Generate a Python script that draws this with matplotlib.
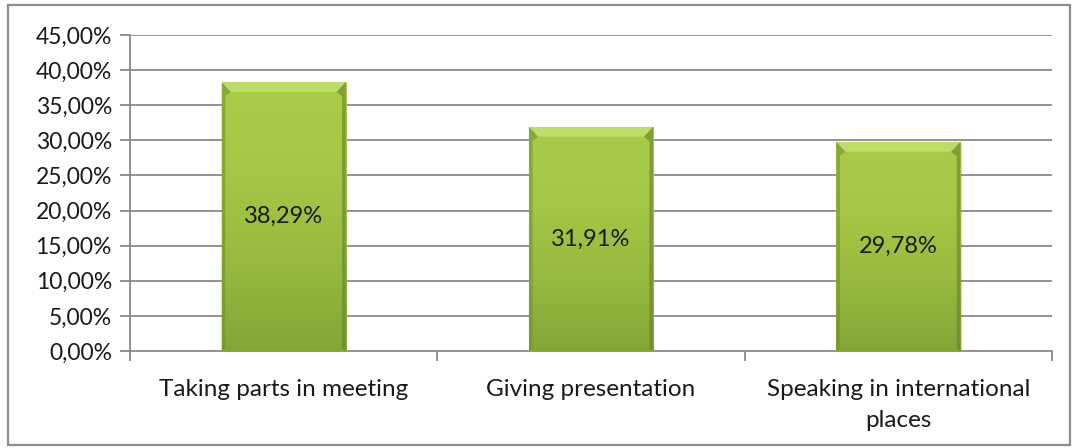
import matplotlib.pyplot as plt
import numpy as np
from matplotlib.colors import LinearSegmentedColormap
from matplotlib.patches import Rectangle, Polygon

categories = ['Taking parts in meeting', 'Giving presentation',
              'Speaking in international\nplaces']
shares = [38.29, 31.91, 29.78]
y_ticks = [0, 5, 10, 15, 20, 25, 30, 35, 40, 45]

plt.rcParams['font.family'] = ['Lato', 'DejaVu Sans']

fig = plt.figure(figsize=(10.72, 4.48), dpi=100)
ax = fig.add_axes([130 / 1072, 1 - 351 / 448, 922 / 1072, 316 / 448])

# outer chart border
fig.patches.append(Rectangle((8 / 1072, 3 / 448), 1062 / 1072, 440 / 448,
                             transform=fig.transFigure, fill=False,
                             edgecolor='#8c8c8c', linewidth=1.6, zorder=0))

x = np.arange(len(categories))
width = 0.404

ax.set_xlim(-0.5, len(categories) - 0.5)
ax.set_ylim(0, 45)

for t in y_ticks[1:]:
    ax.axhline(t, color='#8a8a8a', lw=1.3, zorder=1)

# top-to-bottom shading of the bar body
green = LinearSegmentedColormap.from_list(
    'bar', ['#84a637', '#97ba3f', '#a4c745', '#a9cc48'])
grad = np.linspace(0, 1, 256).reshape(-1, 1)

bars = ax.bar(x, shares, width, color='#9cc040', zorder=2, linewidth=0)
for b, val in zip(bars, shares):
    x0, w, h = b.get_x(), b.get_width(), b.get_height()
    # soft shadow behind the bar
    ax.add_patch(Rectangle((x0 + 0.004, -0.35), w, h, color='#000000',
                           alpha=0.15, zorder=1.5, lw=0))
    im = ax.imshow(grad, extent=[x0, x0 + w, 0, h], aspect='auto',
                   cmap=green, origin='lower', zorder=3)
    im.set_clip_path(b)
    # bevelled edges
    bev_x = 0.03
    bev_y = 1.4
    side = 0.012
    ax.add_patch(Polygon([(x0, h), (x0 + w, h), (x0 + w - bev_x, h - bev_y),
                          (x0 + bev_x, h - bev_y)], closed=True,
                         color='#bedc68', lw=0, zorder=4))
    ax.add_patch(Polygon([(x0, h), (x0 + bev_x, h - bev_y),
                          (x0 + side, h - bev_y - 0.6), (x0 + side, 0.3),
                          (x0, 0)], closed=True, color='#6f8d2a', alpha=0.55,
                         lw=0, zorder=4))
    ax.add_patch(Polygon([(x0 + w, h), (x0 + w - bev_x, h - bev_y),
                          (x0 + w - side, h - bev_y - 0.6),
                          (x0 + w - side, 0.3), (x0 + w, 0)], closed=True,
                         color='#66822a', alpha=0.6, lw=0, zorder=4))
    ax.text(x0 + w / 2, h / 2, f'{val:.2f}%'.replace('.', ','),
            ha='center', va='center', fontsize=17, color='#1a1a1a', zorder=5)

ax.set_yticks(y_ticks)
ax.set_yticklabels([f'{t:.2f}%'.replace('.', ',') for t in y_ticks],
                   fontsize=16.5, color='#1a1a1a')
ax.set_xticks(np.arange(-0.5, len(categories), 1.0))
ax.set_xticklabels([])
ax.set_xticks(x, minor=True)
ax.set_xticklabels(categories, minor=True, fontsize=17.5, color='#1a1a1a',
                   linespacing=1.6, va='top')
ax.tick_params(axis='x', which='minor', length=0, pad=20)
ax.tick_params(axis='x', which='major', length=7, width=1.3, color='#8a8a8a',
               direction='out')
ax.tick_params(axis='y', length=7, width=1.3, color='#8a8a8a', pad=6)

for s in ['top', 'right']:
    ax.spines[s].set_visible(False)
for s in ['left', 'bottom']:
    ax.spines[s].set_color('#8a8a8a')
    ax.spines[s].set_linewidth(1.3)

fig.savefig('out.png', dpi=100)
